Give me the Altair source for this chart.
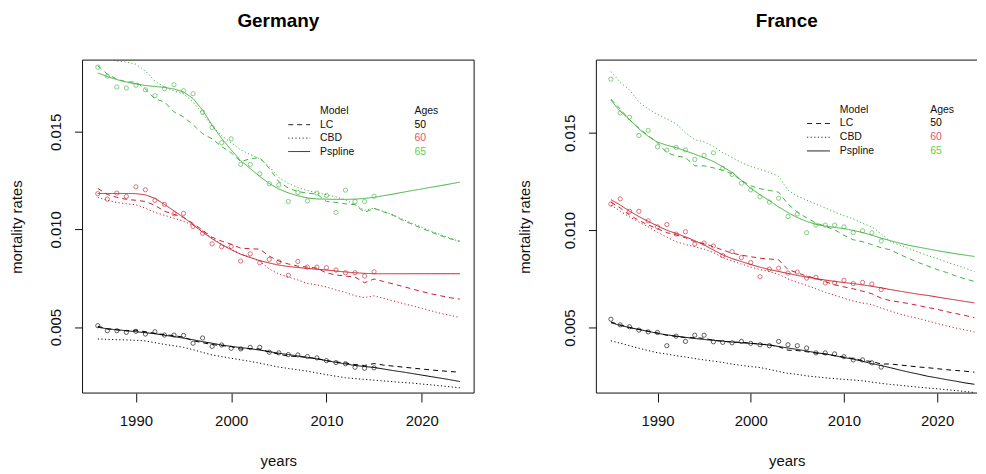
import altair as alt
import pandas as pd

AGES = ["50", "60", "65"]
MODELS = ["LC", "CBD", "Pspline"]
X_TICKS = [1990, 2000, 2010, 2020]
Y_TICKS = [0.005, 0.010, 0.015]

# ---------------- Germany ----------------
DE_FIT_START = 1986
DE_OBS_START = 1986

de_obs_50 = [0.00507, 0.00481, 0.00481, 0.00473, 0.00478, 0.00464, 0.00476, 0.00459, 0.00459, 0.00457,
             0.00417, 0.00444, 0.00401, 0.00408, 0.00391, 0.00388, 0.00396, 0.00396, 0.00371, 0.00368,
             0.00359, 0.00357, 0.00349, 0.00342, 0.00328, 0.00318, 0.00312, 0.00294, 0.00289, 0.00291]
de_obs_60 = [0.01183, 0.01155, 0.01186, 0.01169, 0.01218, 0.01203, 0.01149, 0.01128, 0.01080, 0.01082,
             0.01015, 0.00980, 0.00926, 0.00911, 0.00913, 0.00838, 0.00875, 0.00829, 0.00846, 0.00834,
             0.00765, 0.00836, 0.00807, 0.00807, 0.00804, 0.00792, 0.00778, 0.00778, 0.00761, 0.00783]
de_obs_65 = [0.01831, 0.01785, 0.01729, 0.01724, 0.01738, 0.01715, 0.01685, 0.01721, 0.01741, 0.01710,
             0.01695, 0.01600, 0.01522, 0.01444, 0.01464, 0.01333, 0.01333, 0.01285, 0.01234, 0.01228,
             0.01143, 0.01189, 0.01146, 0.01186, 0.01174, 0.01087, 0.01201, 0.01143, 0.01143, 0.01170]

de_ps_50 = [0.00499, 0.00491, 0.00486, 0.00481, 0.00476, 0.00471, 0.00466, 0.00458, 0.00451, 0.00443,
            0.00435, 0.00425, 0.00417, 0.00408, 0.00401, 0.00395, 0.00389, 0.00382, 0.00374, 0.00366,
            0.00359, 0.00352, 0.00345, 0.00337, 0.00328, 0.00319, 0.00311, 0.00303, 0.00298, 0.00293,
            0.00285, 0.00277, 0.00270, 0.00262, 0.00254, 0.00246, 0.00238, 0.00230, 0.00221]
de_lc_50 = [0.00504, 0.00491, 0.00486, 0.00481, 0.00484, 0.00476, 0.00468, 0.00461, 0.00456, 0.00448,
            0.00430, 0.00420, 0.00410, 0.00405, 0.00400, 0.00387, 0.00390, 0.00387, 0.00372, 0.00361,
            0.00351, 0.00349, 0.00344, 0.00339, 0.00328, 0.00321, 0.00316, 0.00308, 0.00303, 0.00313,
            0.00305, 0.00300, 0.00295, 0.00290, 0.00285, 0.00280, 0.00276, 0.00272, 0.00269]
de_cbd_50 = [0.00439, 0.00437, 0.00435, 0.00434, 0.00432, 0.00429, 0.00420, 0.00411, 0.00404, 0.00396,
             0.00384, 0.00370, 0.00357, 0.00349, 0.00340, 0.00332, 0.00324, 0.00315, 0.00305, 0.00295,
             0.00288, 0.00281, 0.00274, 0.00265, 0.00256, 0.00248, 0.00240, 0.00236, 0.00232, 0.00228,
             0.00224, 0.00220, 0.00216, 0.00213, 0.00208, 0.00204, 0.00199, 0.00194, 0.00189]

de_ps_60 = [0.01184, 0.01184, 0.01184, 0.01184, 0.01183, 0.01177, 0.01159, 0.01128, 0.01095, 0.01062,
            0.01024, 0.00986, 0.00952, 0.00922, 0.00896, 0.00873, 0.00856, 0.00840, 0.00828, 0.00817,
            0.00810, 0.00805, 0.00800, 0.00796, 0.00792, 0.00787, 0.00782, 0.00778, 0.00775, 0.00773,
            0.00773, 0.00773, 0.00773, 0.00773, 0.00773, 0.00773, 0.00773, 0.00773, 0.00773]
de_lc_60 = [0.01210, 0.01179, 0.01164, 0.01154, 0.01149, 0.01143, 0.01123, 0.01093, 0.01077, 0.01062,
            0.01031, 0.00996, 0.00960, 0.00940, 0.00924, 0.00904, 0.00901, 0.00899, 0.00863, 0.00838,
            0.00823, 0.00812, 0.00807, 0.00802, 0.00777, 0.00767, 0.00761, 0.00756, 0.00727, 0.00746,
            0.00733, 0.00721, 0.00708, 0.00695, 0.00682, 0.00670, 0.00660, 0.00650, 0.00643]
de_cbd_60 = [0.01164, 0.01149, 0.01138, 0.01131, 0.01126, 0.01108, 0.01087, 0.01072, 0.01057, 0.01042,
             0.01021, 0.00991, 0.00955, 0.00924, 0.00899, 0.00873, 0.00858, 0.00838, 0.00797, 0.00772,
             0.00756, 0.00741, 0.00723, 0.00716, 0.00705, 0.00690, 0.00677, 0.00660, 0.00651, 0.00660,
             0.00647, 0.00634, 0.00621, 0.00609, 0.00596, 0.00583, 0.00570, 0.00560, 0.00549]

de_ps_65 = [0.01801, 0.01783, 0.01767, 0.01755, 0.01745, 0.01737, 0.01732, 0.01727, 0.01719, 0.01704,
            0.01670, 0.01611, 0.01534, 0.01466, 0.01407, 0.01352, 0.01312, 0.01271, 0.01235, 0.01207,
            0.01187, 0.01172, 0.01161, 0.01156, 0.01155, 0.01154, 0.01154, 0.01155, 0.01159, 0.01164,
            0.01173, 0.01181, 0.01190, 0.01199, 0.01207, 0.01216, 0.01224, 0.01233, 0.01242]
de_lc_65 = [0.01838, 0.01795, 0.01770, 0.01755, 0.01755, 0.01719, 0.01668, 0.01653, 0.01602, 0.01576,
            0.01536, 0.01490, 0.01464, 0.01424, 0.01393, 0.01347, 0.01362, 0.01368, 0.01312, 0.01245,
            0.01211, 0.01194, 0.01186, 0.01181, 0.01143, 0.01138, 0.01131, 0.01127, 0.01087, 0.01108,
            0.01090, 0.01072, 0.01047, 0.01026, 0.01006, 0.00986, 0.00968, 0.00952, 0.00940]
de_cbd_65 = [0.01908, 0.01887, 0.01862, 0.01857, 0.01846, 0.01811, 0.01760, 0.01729, 0.01709, 0.01694,
             0.01653, 0.01592, 0.01531, 0.01480, 0.01444, 0.01408, 0.01383, 0.01362, 0.01322, 0.01266,
             0.01235, 0.01215, 0.01199, 0.01187, 0.01178, 0.01166, 0.01151, 0.01127, 0.01098, 0.01109,
             0.01092, 0.01075, 0.01052, 0.01031, 0.01011, 0.00991, 0.00973, 0.00955, 0.00937]

# ---------------- France ----------------
FR_FIT_START = 1985
FR_OBS_START = 1985

fr_obs_50 = [0.00543, 0.00514, 0.00504, 0.00487, 0.00478, 0.00475, 0.00407, 0.00456, 0.00429, 0.00461,
             0.00461, 0.00427, 0.00424, 0.00422, 0.00429, 0.00419, 0.00412, 0.00407, 0.00429, 0.00412,
             0.00407, 0.00395, 0.00370, 0.00370, 0.00365, 0.00351, 0.00334, 0.00334, 0.00319, 0.00297]
fr_obs_60 = [0.01134, 0.01161, 0.01097, 0.01097, 0.01048, 0.01017, 0.01029, 0.00980, 0.00992, 0.00929,
             0.00934, 0.00919, 0.00870, 0.00890, 0.00859, 0.00834, 0.00761, 0.00800, 0.00805, 0.00780,
             0.00785, 0.00754, 0.00758, 0.00729, 0.00729, 0.00743, 0.00726, 0.00732, 0.00724, 0.00695]
fr_obs_65 = [0.01775, 0.01602, 0.01580, 0.01486, 0.01512, 0.01428, 0.01411, 0.01425, 0.01412, 0.01363,
             0.01384, 0.01397, 0.01318, 0.01286, 0.01241, 0.01207, 0.01171, 0.01144, 0.01164, 0.01070,
             0.01083, 0.00987, 0.01026, 0.01026, 0.01026, 0.01017, 0.00988, 0.00997, 0.00987, 0.00944]

fr_ps_50 = [0.00525, 0.00511, 0.00500, 0.00490, 0.00481, 0.00470, 0.00463, 0.00456, 0.00450, 0.00444,
            0.00439, 0.00434, 0.00430, 0.00426, 0.00422, 0.00419, 0.00415, 0.00410, 0.00403, 0.00395,
            0.00388, 0.00380, 0.00371, 0.00365, 0.00356, 0.00346, 0.00338, 0.00327, 0.00315, 0.00305,
            0.00294, 0.00282, 0.00271, 0.00261, 0.00250, 0.00242, 0.00233, 0.00225, 0.00216, 0.00209]
fr_lc_50 = [0.00529, 0.00514, 0.00501, 0.00491, 0.00481, 0.00473, 0.00460, 0.00455, 0.00448, 0.00448,
            0.00445, 0.00435, 0.00430, 0.00425, 0.00425, 0.00420, 0.00415, 0.00412, 0.00402, 0.00384,
            0.00382, 0.00376, 0.00369, 0.00364, 0.00356, 0.00349, 0.00341, 0.00331, 0.00326, 0.00313,
            0.00313, 0.00308, 0.00303, 0.00298, 0.00294, 0.00289, 0.00284, 0.00280, 0.00276, 0.00271]
fr_cbd_50 = [0.00432, 0.00420, 0.00407, 0.00394, 0.00382, 0.00371, 0.00364, 0.00356, 0.00349, 0.00341,
             0.00334, 0.00328, 0.00321, 0.00313, 0.00306, 0.00300, 0.00295, 0.00285, 0.00275, 0.00265,
             0.00260, 0.00252, 0.00247, 0.00242, 0.00238, 0.00234, 0.00231, 0.00227, 0.00220, 0.00214,
             0.00208, 0.00204, 0.00199, 0.00194, 0.00190, 0.00186, 0.00181, 0.00177, 0.00172, 0.00167]

fr_ps_60 = [0.01157, 0.01129, 0.01098, 0.01070, 0.01045, 0.01022, 0.01000, 0.00983, 0.00966, 0.00946,
            0.00924, 0.00898, 0.00873, 0.00854, 0.00839, 0.00824, 0.00810, 0.00798, 0.00788, 0.00778,
            0.00768, 0.00759, 0.00751, 0.00744, 0.00737, 0.00731, 0.00726, 0.00719, 0.00712, 0.00704,
            0.00695, 0.00687, 0.00679, 0.00671, 0.00665, 0.00657, 0.00649, 0.00642, 0.00634, 0.00627]
fr_lc_60 = [0.01144, 0.01114, 0.01078, 0.01050, 0.01027, 0.01007, 0.00987, 0.00976, 0.00961, 0.00941,
            0.00931, 0.00915, 0.00898, 0.00882, 0.00872, 0.00864, 0.00856, 0.00852, 0.00848, 0.00798,
            0.00781, 0.00765, 0.00753, 0.00735, 0.00720, 0.00709, 0.00699, 0.00687, 0.00674, 0.00651,
            0.00638, 0.00631, 0.00623, 0.00613, 0.00603, 0.00594, 0.00582, 0.00572, 0.00562, 0.00551]
fr_cbd_60 = [0.01129, 0.01098, 0.01068, 0.01042, 0.01017, 0.00989, 0.00964, 0.00941, 0.00926, 0.00915,
             0.00903, 0.00885, 0.00859, 0.00842, 0.00826, 0.00811, 0.00798, 0.00788, 0.00773, 0.00750,
             0.00732, 0.00717, 0.00699, 0.00681, 0.00666, 0.00651, 0.00636, 0.00626, 0.00618, 0.00600,
             0.00585, 0.00570, 0.00557, 0.00547, 0.00534, 0.00521, 0.00509, 0.00498, 0.00488, 0.00478]

fr_ps_65 = [0.01668, 0.01610, 0.01568, 0.01520, 0.01482, 0.01452, 0.01436, 0.01424, 0.01407, 0.01390,
            0.01372, 0.01353, 0.01325, 0.01297, 0.01256, 0.01215, 0.01182, 0.01152, 0.01119, 0.01090,
            0.01065, 0.01045, 0.01030, 0.01021, 0.01014, 0.01008, 0.00999, 0.00988, 0.00974, 0.00959,
            0.00946, 0.00933, 0.00922, 0.00913, 0.00904, 0.00895, 0.00887, 0.00879, 0.00872, 0.00865]
fr_lc_65 = [0.01673, 0.01622, 0.01566, 0.01525, 0.01485, 0.01449, 0.01398, 0.01381, 0.01373, 0.01330,
            0.01330, 0.01320, 0.01307, 0.01289, 0.01256, 0.01228, 0.01213, 0.01204, 0.01195, 0.01134,
            0.01093, 0.01063, 0.01037, 0.01020, 0.01002, 0.00974, 0.00951, 0.00941, 0.00926, 0.00910,
            0.00899, 0.00875, 0.00854, 0.00834, 0.00816, 0.00798, 0.00783, 0.00765, 0.00750, 0.00737]
fr_cbd_65 = [0.01814, 0.01759, 0.01719, 0.01658, 0.01622, 0.01594, 0.01571, 0.01546, 0.01500, 0.01464,
             0.01454, 0.01429, 0.01398, 0.01373, 0.01347, 0.01327, 0.01312, 0.01297, 0.01276, 0.01205,
             0.01175, 0.01154, 0.01134, 0.01114, 0.01093, 0.01075, 0.01058, 0.01035, 0.01017, 0.00981,
             0.00941, 0.00923, 0.00905, 0.00887, 0.00870, 0.00854, 0.00837, 0.00821, 0.00805, 0.00788]

AGE_COLORS = ["#000000", "#C81E2E", "#3DB23D"]
LEGEND_AGE_COLORS = ["#000000", "#DF536B", "#61D04F"]
FONT = "Liberation Sans"
PLOT_H = 335


def fits_frame(start, series):
    rows = []
    for (age, model), values in series.items():
        for i, v in enumerate(values):
            rows.append({"year": start + i, "rate": v, "age": age, "model": model,
                         "key": age + model})
    return pd.DataFrame(rows)


def obs_frame(start, series):
    rows = []
    for age, values in series.items():
        for i, v in enumerate(values):
            rows.append({"year": start + i, "rate": v, "age": age})
    return pd.DataFrame(rows)


de_fit = fits_frame(DE_FIT_START, {
    ("50", "LC"): de_lc_50, ("50", "CBD"): de_cbd_50, ("50", "Pspline"): de_ps_50,
    ("60", "LC"): de_lc_60, ("60", "CBD"): de_cbd_60, ("60", "Pspline"): de_ps_60,
    ("65", "LC"): de_lc_65, ("65", "CBD"): de_cbd_65, ("65", "Pspline"): de_ps_65,
})
de_obs = obs_frame(DE_OBS_START, {"50": de_obs_50, "60": de_obs_60, "65": de_obs_65})
fr_fit = fits_frame(FR_FIT_START, {
    ("50", "LC"): fr_lc_50, ("50", "CBD"): fr_cbd_50, ("50", "Pspline"): fr_ps_50,
    ("60", "LC"): fr_lc_60, ("60", "CBD"): fr_cbd_60, ("60", "Pspline"): fr_ps_60,
    ("65", "LC"): fr_lc_65, ("65", "CBD"): fr_cbd_65, ("65", "Pspline"): fr_ps_65,
})
fr_obs = obs_frame(FR_OBS_START, {"50": fr_obs_50, "60": fr_obs_60, "65": fr_obs_65})

DASHES = [[5, 4], [1.2, 2.4], [1, 0]]
color_scale = alt.Scale(domain=AGES, range=AGE_COLORS)
dash_scale = alt.Scale(domain=MODELS, range=DASHES)


def panel(title, fit, obs, xdom, ydom, width, leg, right_border, ytitle_pad):
    x = alt.X("year:Q", scale=alt.Scale(domain=xdom, nice=False, zero=False),
              axis=alt.Axis(values=X_TICKS, format="d", title="years"))
    y = alt.Y("rate:Q", scale=alt.Scale(domain=ydom, nice=False, zero=False),
              axis=alt.Axis(values=Y_TICKS, format=".3f", title="mortality rates",
                            titlePadding=ytitle_pad))
    lines = alt.Chart(fit).mark_line(clip=True, strokeWidth=1).encode(
        x=x, y=y,
        color=alt.Color("age:N", scale=color_scale, legend=None),
        strokeDash=alt.StrokeDash("model:N", scale=dash_scale, legend=None),
        detail="key:N",
    )
    pts = alt.Chart(obs).mark_point(shape="circle", filled=False, size=18,
                                    strokeWidth=0.9, clip=True).encode(
        x=x, y=y, color=alt.Color("age:N", scale=color_scale, legend=None))
    layers = [lines, pts]
    dummy = pd.DataFrame({"d": [0]})
    # frame of the plot region (the France panel is cut at the page edge)
    frame = alt.Chart(dummy).mark_rule(color="#111111", strokeWidth=1)
    layers.append(frame.encode(x=alt.value(0), x2=alt.value(width), y=alt.value(0)))
    layers.append(frame.encode(x=alt.value(0), x2=alt.value(width), y=alt.value(PLOT_H)))
    layers.append(frame.encode(x=alt.value(0), y=alt.value(0), y2=alt.value(PLOT_H)))
    if right_border:
        layers.append(frame.encode(x=alt.value(width), y=alt.value(0), y2=alt.value(PLOT_H)))
    lx1, lx2, tx, ax, y0, dy = leg
    for i, (m, dash) in enumerate(zip(MODELS, DASHES)):
        yy = y0 + dy * (i + 1)
        layers.append(alt.Chart(dummy).mark_rule(color="#222222", strokeWidth=1,
                                                 strokeDash=dash).encode(
            x=alt.value(lx1), x2=alt.value(lx2), y=alt.value(yy)))
        layers.append(alt.Chart(dummy).mark_text(align="left", baseline="middle",
                                                 fontSize=10.5, font=FONT,
                                                 color="#111111").encode(
            x=alt.value(tx), y=alt.value(yy), text=alt.value(m)))
        layers.append(alt.Chart(dummy).mark_text(align="left", baseline="middle",
                                                 fontSize=10.5, font=FONT,
                                                 color=LEGEND_AGE_COLORS[i]).encode(
            x=alt.value(ax), y=alt.value(yy), text=alt.value(AGES[i])))
    layers.append(alt.Chart(dummy).mark_text(align="left", baseline="middle",
                                             fontSize=10.5, font=FONT,
                                             color="#111111").encode(
        x=alt.value(tx), y=alt.value(y0), text=alt.value("Model")))
    layers.append(alt.Chart(dummy).mark_text(align="left", baseline="middle",
                                             fontSize=10.5, font=FONT,
                                             color="#111111").encode(
        x=alt.value(ax), y=alt.value(y0), text=alt.value("Ages")))
    return alt.layer(*layers).properties(
        width=width, height=PLOT_H,
        title=alt.TitleParams(title, fontSize=19, fontWeight="bold", font=FONT,
                              color="black", offset=29),
    )


de = panel("Germany", de_fit, de_obs, [1984.4, 2025.5], [0.00162, 0.01867], 394,
           (207, 229, 239, 334, 51.5, 13.5), True, 18)
fr = panel("France", fr_fit, fr_obs, [1983.44, 2024.28], [0.00164, 0.01873], 383,
           (212, 235, 245, 336, 50, 13.8), False, 24)

chart = alt.hconcat(de, fr, spacing=43).properties(
    padding={"left": 2, "top": 2, "right": 0, "bottom": 0}
).configure_view(strokeWidth=0).configure_axis(
    grid=False, domain=False, labelFont=FONT, titleFont=FONT, labelFontSize=15,
    titleFontSize=15, titleFontWeight="normal", labelColor="#111111",
    titleColor="#111111", tickColor="#111111"
).configure_axisX(
    tickSize=9, labelPadding=12, titlePadding=25
).configure_axisY(
    tickSize=8, labelAngle=270, labelAlign="center", labelBaseline="bottom",
    labelPadding=11, titlePadding=18, minExtent=40, maxExtent=40
)

chart.save("out.html", embed_options={"renderer": "svg", "actions": False})
